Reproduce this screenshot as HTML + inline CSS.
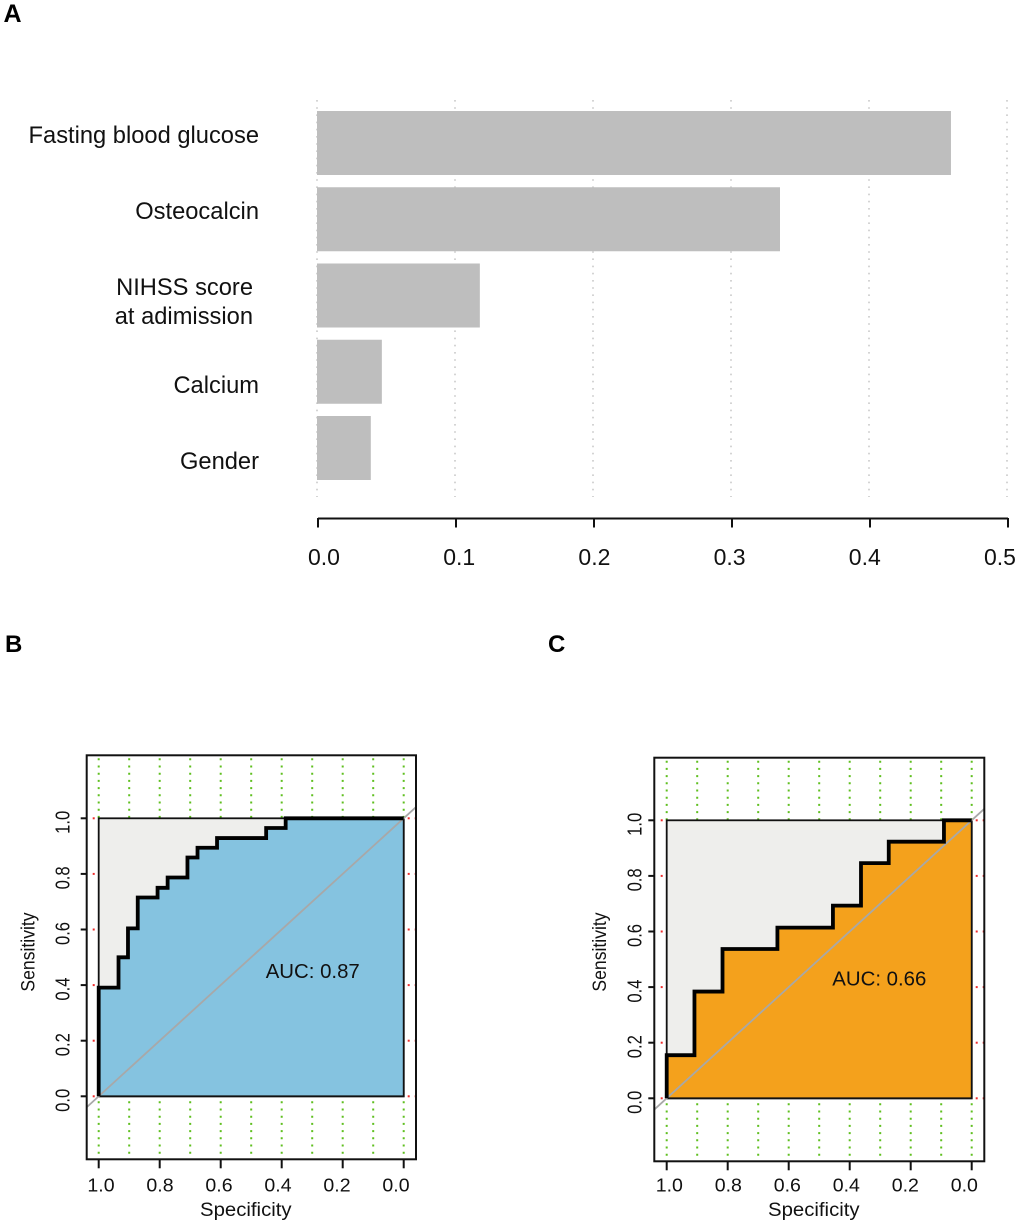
<!DOCTYPE html>
<html lang="en">
<head>
<meta charset="utf-8">
<title>Feature importance and ROC curves</title>
<style>
html,body{margin:0;padding:0;background:#fff;}
svg{display:block;font-family:"Liberation Sans",Arial,sans-serif;}
</style>
</head>
<body>
<svg id="fig" xmlns="http://www.w3.org/2000/svg" width="1020" height="1225" viewBox="0 0 1020 1225">
<text x="3.5" y="22" font-size="25" font-weight="bold" fill="#000">A</text>
<text x="5" y="652" font-size="24" font-weight="bold" fill="#000">B</text>
<text x="548" y="652" font-size="24" font-weight="bold" fill="#000">C</text>
</svg>
<script>
// Panel A data
const barCategories = ["Fasting blood glucose", "Osteocalcin", "NIHSS score|at adimission", "Calcium", "Gender"];
const barValues = [0.4594, 0.3355, 0.118, 0.047, 0.039];
const barTicks = [0.0, 0.1, 0.2, 0.3, 0.4, 0.5];
const barTickLabels = ["0.0", "0.1", "0.2", "0.3", "0.4", "0.5"];

// ROC tick values
const rocTicks = [1.0, 0.8, 0.6, 0.4, 0.2, 0.0];
const rocTickLabels = ["1.0", "0.8", "0.6", "0.4", "0.2", "0.0"];
const rocGridSpec = [1.0, 0.9, 0.8, 0.7, 0.6, 0.5, 0.4, 0.3, 0.2, 0.1, 0.0];

// Panel B ROC curve
const rocBSpecificity = [1, 1, 0.935, 0.935, 0.904, 0.904, 0.872, 0.872, 0.807, 0.807, 0.774, 0.774, 0.709, 0.709, 0.676, 0.676, 0.612, 0.612, 0.451, 0.451, 0.387, 0.387, 0];
const rocBSensitivity = [0, 0.391, 0.391, 0.5, 0.5, 0.604, 0.604, 0.715, 0.715, 0.75, 0.75, 0.787, 0.787, 0.859, 0.859, 0.894, 0.894, 0.929, 0.929, 0.965, 0.965, 1, 1];
const rocBAuc = "AUC: 0.87";

// Panel C ROC curve
const rocCSpecificity = [1, 1, 0.909, 0.909, 0.817, 0.817, 0.637, 0.637, 0.455, 0.455, 0.363, 0.363, 0.272, 0.272, 0.091, 0.091, 0];
const rocCSensitivity = [0, 0.155, 0.155, 0.384, 0.384, 0.537, 0.537, 0.614, 0.614, 0.693, 0.693, 0.846, 0.846, 0.923, 0.923, 1, 1];
const rocCAuc = "AUC: 0.66";

const NS = "http://www.w3.org/2000/svg";
const fig = document.getElementById("fig");

function add(parent, tag, name, attrs, txt) {
  const el = document.createElementNS(NS, tag);
  
  
  for (const k in attrs) el.setAttribute(k, attrs[k]);
  if (txt !== undefined) el.textContent = txt;
  parent.appendChild(el);
  return el;
}

/* ---------- Panel A ---------- */
(function () {
  const g = add(fig, "g", "importance-bar-chart", {});
  const xGrid = v => 317 + v * 1380;
  const xAxis = v => 318 + v * 1380;
  const xLabel = v => 324 + v * 1352;
  const barTop = i => 111 + i * 76.25;
  const barH = 64;
  const labelBase = i => (i < 3 ? 143 : 165) + 76 * i;

  barTicks.forEach(t => {
    add(g, "line", "grid-line", { x1: xGrid(t), x2: xGrid(t), y1: 100, y2: 497, stroke: "#c9c9c9", "stroke-width": 1.6, "stroke-dasharray": "1.6 5.6" });
  });
  barValues.forEach((v, i) => {
    add(g, "rect", "importance-bar", { x: xGrid(0), y: barTop(i), width: xGrid(v) - xGrid(0), height: barH, fill: "#bebebe" });
    const parts = barCategories[i].split("|");
    if (parts.length === 1) {
      add(g, "text", "bar-label", { x: 259, y: labelBase(i), "text-anchor": "end", "font-size": 23.7, fill: "#111" }, parts[0]);
    } else {
      add(g, "text", "bar-label", { x: 253, y: labelBase(i), "text-anchor": "end", "font-size": 23.7, fill: "#111" }, parts[0]);
      add(g, "text", "bar-label", { x: 253, y: labelBase(i) + 29, "text-anchor": "end", "font-size": 23.7, fill: "#111" }, parts[1]);
    }
  });
  add(g, "line", "x-axis-line", { x1: xAxis(0), x2: xAxis(0.5), y1: 518.5, y2: 518.5, stroke: "#111", "stroke-width": 2 });
  barTicks.forEach((t, i) => {
    add(g, "line", "x-axis-tick", { x1: xAxis(t), x2: xAxis(t), y1: 518, y2: 527.5, stroke: "#111", "stroke-width": 2 });
    add(g, "text", "x-tick-label", { x: xLabel(t), y: 565, "text-anchor": "middle", "font-size": 23, fill: "#111" }, barTickLabels[i]);
  });
})();

/* ---------- ROC panels ---------- */
function rocPanel(cfg) {
  const g = add(fig, "g", cfg.name, {});
  const sx = s => cfg.x1 + (1 - s) * (cfg.x0 - cfg.x1);
  const sy = v => cfg.y0 + v * (cfg.y1 - cfg.y0);
  const lblX = s => cfg.lx1 + (1 - s) * 295;
  const box = cfg.box;

  // green vertical dotted grid
  rocGridSpec.forEach(s => {
    add(g, "line", "vertical-grid-top", { x1: sx(s), x2: sx(s), y1: box.t + 3, y2: sy(1), stroke: "#5fbf1f", "stroke-width": 2, "stroke-dasharray": "2 5.2" });
    add(g, "line", "vertical-grid-bottom", { x1: sx(s), x2: sx(s), y1: sy(0) + 5, y2: box.b - 1, stroke: "#5fbf1f", "stroke-width": 2, "stroke-dasharray": "2 5.2" });
  });
  // red horizontal dotted grid
  rocTicks.forEach(v => {
    [sx(1) - 6, sx(0) + 4, sx(0) + 11].forEach(x => {
      add(g, "rect", "horizontal-grid-dot", { x: x, y: sy(v) - 1, width: 2, height: 2, fill: "#ee2b2b" });
    });
  });

  // plot region and AUC fills
  add(g, "rect", "roc-plot-area", { x: sx(1), y: sy(1), width: sx(0) - sx(1), height: sy(0) - sy(1), fill: "#eeeeec", stroke: "#111", "stroke-width": 1.8 });
  let pts = cfg.spec.map((s, i) => sx(s) + "," + sy(cfg.sens[i])).join(" ");
  add(g, "polygon", "auc-area", { points: pts + " " + sx(0) + "," + sy(0) + " " + sx(1) + "," + sy(0), fill: cfg.fill, stroke: "#111", "stroke-width": 1.8 });

  // diagonal reference, clipped to box limits
  const dL = (sx(1) - box.l) / (sx(0) - sx(1));
  const dR = (box.r - sx(0)) / (sx(0) - sx(1));
  add(g, "line", "diagonal-reference-line", { x1: box.l, y1: sy(-dL), x2: box.r, y2: sy(1 + dR), stroke: "#a8a8a8", "stroke-width": 1.8 });

  // ROC step line
  add(g, "polyline", "roc-curve", { points: pts, fill: "none", stroke: "#000", "stroke-width": 3.8, "stroke-linejoin": "miter" });

  // frame
  add(g, "rect", "plot-frame", { x: box.l, y: box.t, width: box.r - box.l, height: box.b - box.t, fill: "none", stroke: "#111", "stroke-width": 2 });

  // axes
  rocTicks.forEach((t, i) => {
    add(g, "line", "x-axis-tick", { x1: sx(t), x2: sx(t), y1: box.b, y2: box.b + 9, stroke: "#111", "stroke-width": 2 });
    add(g, "text", "x-tick-label", { "text-anchor": "middle", "font-size": 18.8, fill: "#111", transform: "translate(" + lblX(t) + "," + (box.lb) + ") scale(1.04,1)" }, rocTickLabels[i]);
    add(g, "line", "y-axis-tick", { x1: box.l - 6, x2: box.l, y1: sy(t), y2: sy(t), stroke: "#111", "stroke-width": 2 });
    add(g, "text", "y-tick-label", { "text-anchor": "middle", "font-size": 16.6, fill: "#111", transform: "translate(" + cfg.yTickX + "," + (sy(t) + 4) + ") scale(1.2,1) rotate(-90)" }, rocTickLabels[i]);
  });
  add(g, "text", "x-axis-title", { "text-anchor": "middle", "font-size": 19.2, fill: "#111", transform: "translate(" + cfg.xTitle + ",1216) scale(1.06,1)" }, "Specificity");
  add(g, "text", "y-axis-title", { "text-anchor": "middle", "font-size": 17.6, fill: "#111", transform: "translate(" + cfg.yTitle + ",952) scale(1.1,1) rotate(-90)" }, "Sensitivity");
  add(g, "text", "auc-label", { "font-size": 20, fill: "#111", transform: "translate(" + cfg.aucX + "," + cfg.aucY + ") scale(1.02,1)" }, cfg.auc);
}

rocPanel({
  name: "roc-panel-b", spec: rocBSpecificity, sens: rocBSensitivity, auc: rocBAuc, fill: "#85c3e0",
  x1: 98.7, x0: 403.7, y1: 818.3, y0: 1096.3, lx1: 101,
  box: { l: 86.7, r: 416, t: 755.3, b: 1159.3, lb: 1191.7 },
  yTickX: 69.3, xTitle: 245.8, yTitle: 34.5, aucX: 265.7, aucY: 978
});
rocPanel({
  name: "roc-panel-c", spec: rocCSpecificity, sens: rocCSensitivity, auc: rocCAuc, fill: "#f4a11c",
  x1: 666.7, x0: 971.7, y1: 820.3, y0: 1098.3, lx1: 669.3,
  box: { l: 654.3, r: 984.3, t: 757.7, b: 1161.3, lb: 1191.7 },
  yTickX: 641.7, xTitle: 813.8, yTitle: 606, aucX: 832.3, aucY: 985.7
});
</script>
</body>
</html>
